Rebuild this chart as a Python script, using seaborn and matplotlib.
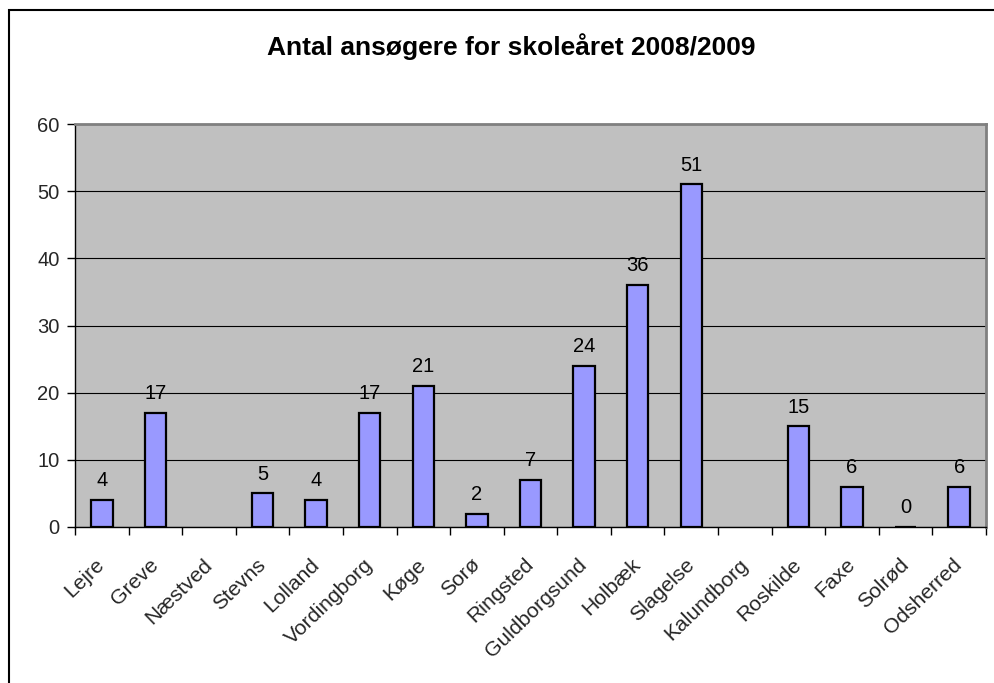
import numpy as np
import pandas as pd
import matplotlib
matplotlib.use("Agg")
import matplotlib.pyplot as plt
import matplotlib.transforms as mtransforms
from matplotlib.patches import Rectangle
import seaborn as sns

# Applicants per municipality
kommuner = ["Lejre", "Greve", "Næstved", "Stevns", "Lolland", "Vordingborg", "Køge",
            "Sorø", "Ringsted", "Guldborgsund", "Holbæk", "Slagelse", "Kalundborg",
            "Roskilde", "Faxe", "Solrød", "Odsherred"]
ansoegere = [4, 17, np.nan, 5, 4, 17, 21, 2, 7, 24, 36, 51, np.nan, 15, 6, 0, 6]
y_ticks = [0, 10, 20, 30, 40, 50, 60]

title = "Antal ansøgere for skoleåret 2008/2009"

sns.set_theme(style="white")
plt.rcParams["font.family"] = ["Liberation Sans", "DejaVu Sans"]

df = pd.DataFrame({"kommune": kommuner, "antal": ansoegere})

fig = plt.figure(figsize=(9.95, 6.83), dpi=100)
ax = fig.add_axes([75 / 995, 1 - 527 / 683, (986 - 75) / 995, (527 - 124) / 683])
ax.set_facecolor("#C0C0C0")

sns.barplot(data=df, x="kommune", y="antal", ax=ax, color="#9999FF",
            width=0.40, edgecolor="black", linewidth=1.6, saturation=1)

# Value labels above the bars
for i, v in enumerate(ansoegere):
    if np.isnan(v):
        continue
    ax.annotate(f"{int(v)}", (i, v), xytext=(0, 7), textcoords="offset points",
                ha="center", va="bottom", fontsize=14.5, color="black")

ax.set_ylim(0, 60)
ax.set_xlim(-0.5, len(kommuner) - 0.5)
ax.set_yticks(y_ticks)
ax.set_yticklabels([str(t) for t in y_ticks], fontsize=14.5)
ax.yaxis.grid(True, color="black", linewidth=0.8)
ax.set_axisbelow(True)

ax.set_xticks(range(len(kommuner)))
ax.set_xticklabels(kommuner, rotation=44, ha="right", va="center",
                   rotation_mode="anchor", fontsize=15.2)
shift = mtransforms.ScaledTranslation(-13 / 100, 0, fig.dpi_scale_trans)
for lbl in ax.get_xticklabels():
    lbl.set_transform(lbl.get_transform() + shift)
ax.set_xticks(np.arange(-0.5, len(kommuner), 1.0), minor=True)
ax.tick_params(axis="x", which="major", length=0, pad=25)
ax.tick_params(axis="x", which="minor", length=6, width=1, color="black", direction="out", bottom=True)
ax.tick_params(axis="y", length=6, width=1, color="black", direction="out", left=True, pad=5)

ax.set_xlabel("")
ax.set_ylabel("")

for side in ["left", "bottom"]:
    ax.spines[side].set_color("black")
    ax.spines[side].set_linewidth(1.0)
for side in ["top", "right"]:
    ax.spines[side].set_visible(True)
    ax.spines[side].set_color("#808080")
    ax.spines[side].set_linewidth(2.0)

fig.text(511 / 995, 1 - 47 / 683, title, ha="center", va="center",
         fontsize=19, fontweight="bold", color="black")

# Chart area frame
fig.patches.append(Rectangle((9 / 995, -0.1), 1.2, (1 - 10 / 683) + 0.1,
                             transform=fig.transFigure, fill=False,
                             edgecolor="black", linewidth=1.5, zorder=10))

fig.savefig("out.png", dpi=100, facecolor="white")
